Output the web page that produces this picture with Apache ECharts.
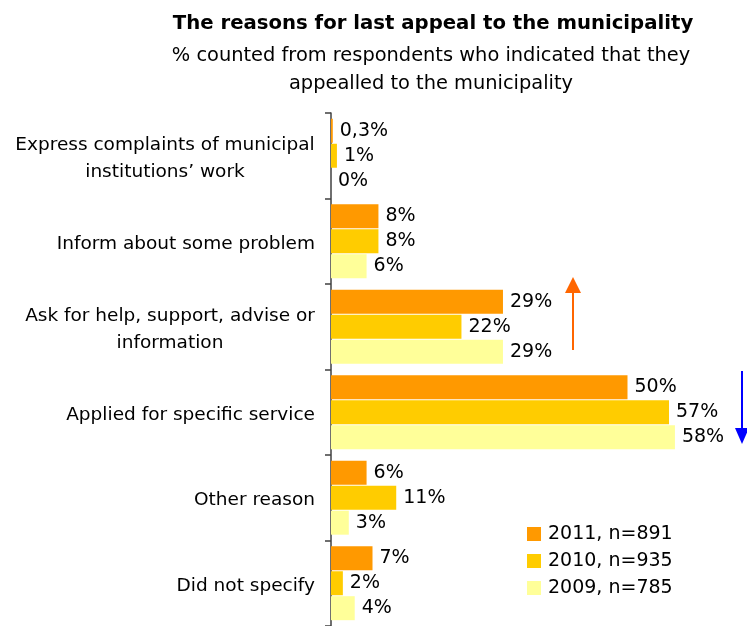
<!DOCTYPE html>
<html>
<head>
<meta charset="utf-8">
<script src="https://cdn.jsdelivr.net/npm/echarts@6/dist/echarts.min.js"></script>
<style>
  html, body { margin: 0; padding: 0; background: #ffffff; }
  #chart { width: 747px; height: 626px; }
</style>
</head>
<body>
<div id="chart"></div>
<script>
// Reasons for the last appeal, share of respondents (%)
const categories = [
  'Express complaints of municipal\ninstitutions’ work',
  'Inform about some problem',
  'Ask for help, support, advise or\ninformation',
  'Applied for specific service',
  'Other reason',
  'Did not specify'
];
const seriesNames = ['2011, n=891', '2010, n=935', '2009, n=785'];
const values2011 = [0.3, 8, 29, 50, 6, 7];
const values2010 = [1, 8, 22, 57, 11, 2];
const values2009 = [0, 6, 29, 58, 3, 4];
const colors = ['#FF9900', '#FFCC00', '#FFFF99'];

const FONT = 'DejaVu Sans';
const CAT_FONT_SIZE = 18.5;
const PX_PER_UNIT = 5.93;
const X_MAX = 60;

function pct(v) {
  return String(v).replace('.', ',') + '%';
}

// Width of a text line, used to centre a wrapped second line under the first
const measureCtx = document.createElement('canvas').getContext('2d');
measureCtx.font = CAT_FONT_SIZE + 'px "' + FONT + '"';
function textWidth(s) {
  return Math.ceil(measureCtx.measureText(s).width);
}

function categoryLabel(value) {
  const lines = value.split('\n');
  if (lines.length === 1) return '{l|' + value + '}';
  const w = Math.max(...lines.map(textWidth));
  const rich = lines.map(line => '{c' + w + '|' + line + '}');
  return rich.join('\n');
}

// Rich styles for centred multi-line category labels
const richStyles = { l: { fontFamily: FONT, fontSize: CAT_FONT_SIZE, color: '#000', lineHeight: 28 } };
categories.forEach(c => {
  const lines = c.split('\n');
  if (lines.length > 1) {
    const w = Math.max(...lines.map(textWidth));
    richStyles['c' + w] = {
      fontFamily: FONT, fontSize: CAT_FONT_SIZE, color: '#000', lineHeight: 27,
      width: w, align: 'center'
    };
  }
});

function makeSeries(name, data, color) {
  return {
    name: name,
    type: 'bar',
    data: data,
    barCategoryGap: '13.6%',
    barGap: '4%',
    itemStyle: { color: color },
    label: {
      show: true,
      position: 'right',
      distance: 7,
      color: '#000',
      fontFamily: FONT,
      fontSize: 19,
      formatter: p => pct(p.value)
    },
    emphasis: { disabled: true },
    animation: false
  };
}

// Trend arrow drawn as a shaft plus a triangular head
function arrow(x, yTail, yTip, headLen, headHalf, color, width) {
  const dir = yTip < yTail ? -1 : 1;
  const yBase = yTip - dir * headLen;
  return [
    {
      type: 'line',
      shape: { x1: x, y1: yTail, x2: x, y2: yBase },
      style: { stroke: color, lineWidth: width }
    },
    {
      type: 'polygon',
      shape: { points: [[x, yTip], [x - headHalf, yBase], [x + headHalf, yBase]] },
      style: { fill: color }
    }
  ];
}

const chart = echarts.init(document.getElementById('chart'), null, { renderer: 'canvas' });

chart.setOption({
  backgroundColor: '#ffffff',
  animation: false,
  title: [
    {
      text: 'The reasons for last appeal to the municipality',
      left: 428,
      top: 7,
      textAlign: 'center',
      textStyle: { fontFamily: FONT, fontSize: 19.7, fontWeight: 'bold', color: '#000', lineHeight: 24 }
    },
    {
      text: '% counted from respondents who indicated that they\nappealled to the municipality',
      left: 426,
      top: 37,
      textAlign: 'center',
      textStyle: { fontFamily: FONT, fontSize: 19.4, fontWeight: 'normal', color: '#000', lineHeight: 28 }
    }
  ],
  legend: {
    orient: 'vertical',
    left: 522,
    top: 519,
    itemWidth: 14,
    itemHeight: 14,
    itemGap: 7,
    icon: 'rect',
    data: seriesNames,
    textStyle: { fontFamily: FONT, fontSize: 19, color: '#000', lineHeight: 20, padding: [0, 0, 0, 2] },
    selectedMode: false
  },
  grid: {
    left: 331,
    top: 113,
    width: PX_PER_UNIT * X_MAX,
    height: 521,
    containLabel: false
  },
  xAxis: {
    type: 'value',
    min: 0,
    max: X_MAX,
    show: false
  },
  yAxis: {
    type: 'category',
    inverse: true,
    data: categories,
    axisLine: { show: true, lineStyle: { color: '#404040', width: 1.5 } },
    axisTick: { show: true, length: 6, lineStyle: { color: '#404040', width: 1.5 } },
    axisLabel: {
      fontFamily: FONT,
      fontSize: CAT_FONT_SIZE,
      color: '#000',
      lineHeight: 28,
      margin: 16,
      align: 'right',
      padding: [5, 0, 0, 0],
      formatter: categoryLabel,
      rich: richStyles
    },
    splitLine: { show: false }
  },
  series: [
    makeSeries(seriesNames[0], values2011, colors[0]),
    makeSeries(seriesNames[1], values2010, colors[1]),
    makeSeries(seriesNames[2], values2009, colors[2])
  ],
  graphic: [
    ...arrow(573, 350, 277, 16, 8, '#FF6600', 2),
    ...arrow(742, 371, 444, 16, 7, '#0000FF', 2)
  ]
});
</script>
</body>
</html>
